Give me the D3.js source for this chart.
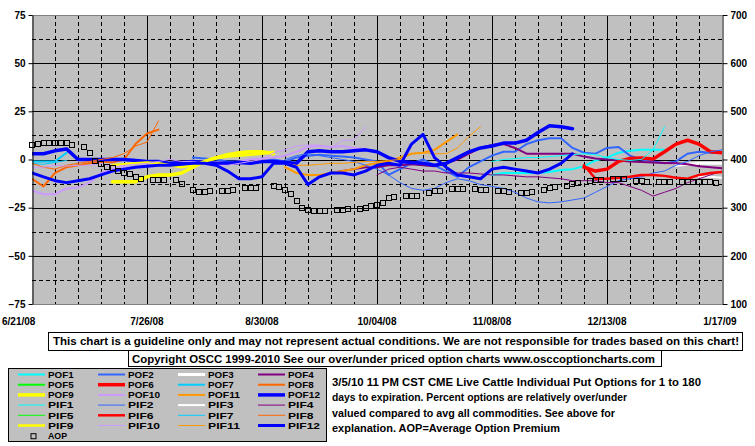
<!DOCTYPE html>
<html>
<head>
<meta charset="utf-8">
<script src="https://cdnjs.cloudflare.com/ajax/libs/d3/7.8.5/d3.min.js"></script>
<style>
  body { margin: 0; background: #fff; }
  text { font-family: "Liberation Sans", Arial, sans-serif; font-weight: bold; fill: #000; }
</style>
</head>
<body>
<div id="chart"></div>
<script>
// DATA ####################################################
const startDate = new Date(Date.UTC(2008, 5, 21));
const endDate = new Date(Date.UTC(2009, 0, 17));
const xTickLabels = ["6/21/08", "7/26/08", "8/30/08", "10/04/08", "11/08/08", "12/13/08", "1/17/09"];
const leftTicks = [75, 50, 25, 0, -25, -50, -75];
const rightTicks = [700, 600, 500, 400, 300, 200, 100];

const seriesNames = ["POF1", "POF2", "POF3", "POF4", "POF5", "POF6", "POF7", "POF8", "POF9", "POF10", "POF11", "POF12",
                     "PIF1", "PIF2", "PIF3", "PIF4", "PIF5", "PIF6", "PIF7", "PIF8", "PIF9", "PIF10", "PIF11", "PIF12"];

// first half-week slot of each series (slot = 3.5 days after 6/21/08)
const seriesStart = {
  POF1: 40, POF2: 14, POF3: 56, POF4: 26, POF5: 0, POF6: 48, POF7: 0, POF8: 0, POF9: 7, POF10: 0, POF11: 22, POF12: 0,
  PIF1: 40, PIF2: 22, PIF3: 58, PIF4: 30, PIF5: 0, PIF6: 48, PIF7: 0, PIF8: 0, PIF9: 7, PIF10: 0, PIF11: 22, PIF12: 0
};

// percent over/under, one value per half week
const POF1 = [-8, -7, -7, -7, -7, -6.5, -5.5, -5, -3.5, -0.5, 1, 3.5, 4.5, 5, 5, 5];
const POF2 = [1, 0.5, 0, -1, -1, -1.5, -1, 0, -1, 1, 2, 2.5, 2, 1.5, 1, 0, -1, -8, -5, -2, 0, -3, -6, -9, -4,
              -1, 2, 4, 4, 8, 10, 11, 11, 6, 3.5, 3, 6, 6.5, 2, 0, -1, -2, -1, 3, 4, 3.5, 3.5];
const POF3 = [-3, -2.5, -2, -2, -2];
const POF4 = [-7, -6, -5, -4, -4, -3, -3, -2.5, -3, -3.5, -2, 0, 3, 6, 7.5, 8, 6, 3, 3, 3, 3, 3, 1.5, 0.5, 0,
              -0.5, -1, -1.3, -1.5, -1.8, -2, -2.5, -3.5, -4, -4.5];
const POF5 = [];
const POF6 = [-4, -6, -5, -1, 0.5, 0.8, 0.2, 4, 8, 10, 8, 4, 3.5];
const POF7 = [-1, -1, -1, 3.5];
const POF8 = [-10, -14, -7, -4, -3, -2, -1, -1.5, 0, 8, 13.5, 15.5];
const POF9 = [-11.5, -11.5, -11.5, -9, -8, -8, -7, -4, -1, 1, 2.5, 3.5, 4, 4, 3];
const POF10 = [-16, -18, -18, -15, -14.5, -12, -7, -5, -4, -4, -3, -3, -2.5, -2, -1, -1, -1.5, -2, -1, 0, 0.5,
               1, 2, 4, 6.5, 7, 6.5, 7, 6, 5.5, 4];
const POF11 = [-4, -7, -8, -8, -7, -6, -5, -3, -2, -1, 1, 3, 3.5, 5, 9, 13];
const POF12 = [3, 3, 4.5, 5.5, 0, 0, 0, 0, 0, -0.5, -1, -1, -2, -1.5, -1, -1.5, -2, -2, -1.5, -2, -1, -1, -1.5, -2,
               4, 4.5, 4, 4, 4.5, 5, 4, 1, -1, -1.5, -2, -3, -2, 1, 4, 6, 7, 8.5, 8.5, 10, 14, 17.5, 17, 16];

const PIF1 = [-1, 0, 0.5, 1, 1, 1.5, 2, 2.5, 3, 2.5, 1, 0, -0.5, 0, 5, 17];
const PIF2 = [0, 2, 3, 2, 1, 0, -1, -3, -5, -8, -12, -15, -16, -15, -12, -10, -11, -13, -14, -15, -17, -20, -22,
              -22.5, -22, -21, -20, -17, -14, -11, -10, -9, -7, -6, -3, -1, 2, 4, 5];
const PIF3 = [-9, -9, -9.5];
const PIF4 = [-8, -5, -4, -5, -6, -6, -7, -7, -7, -7.5, -8, -8, -8.5, -9, -9, -9.5, -10, -11, -11, -11, -12, -12,
              -14, -16, -19, -17, -15, -12, -10, -8, -6];
const PIF5 = [];
const PIF6 = [-3, -10, -10, -9.5, -9, -8, -8, -8.5, -9.5, -10, -8, -7, -6.5];
const PIF7 = [-2, -2.5, -1.5, -0.5];
const PIF8 = [-2, -4, -5, -3, -2, -1, 0, 1, 3, 7, 9, 20];
const PIF9 = [-3, -2.5, -2, -1.5, -2, -3, -4, -3, -1, 0.5, 1.5, 2, 2.5, 3, 4];
const PIF10 = [-4, -4, -3, -3.5, -3, -3, -2, -4, -3, -2.5, -2, -1, 0, -1, -1, -2, -3, -3, -2, -1, 0, 3.5, 5, 7,
               7.5, 7.5, 6, 10, 10, 17];
const PIF11 = [-2, -3, -3, -2.5, -2, -2, -1.5, -1, -1, -0.5, 0, 3, 3.5, 3, 3, 6, 12, 17];
const PIF12 = [-7, -9, -11, -12, -11, -10, -8, -6, -5, -4, -3.5, -3, -3, -2.5, -2, -2, -3, -6, -10, -10, -9, -2, -2,
               -4, -13, -9, -7, -7, -8, -6, -3, -2, -3, 8, 13, 1, -4, -8, -9, -10, -5, -4, -5, -6, -7, -5, -2, 3];

// average option premium (right axis), one value per 1.75 days
const AOP = [431, 433, 434, 434, 434, 434, 434, 430, null, 426, 414, 397, 391, 384, 382, 376, 372, 370, 364, 360,
             null, 357, 357, 357, null, 357, 349, null, 337, 333, 333, 335, null, 335, 335, 337, null, 341, 341, 341,
             null, null, 345, 343, 337, 328, 314, 299, 295, 293, 293, 293, null, 295, 295, 297, null, 297, 299, 303,
             306, 310, 320, 322, null, 324, 324, 324, null, 330, 335, 335, null, 339, 339, 339, null, 339, 337, 337,
             null, 335, 335, 333, null, 330, 330, 333, null, 337, 341, 343, null, 345, 349, 351, null, 355, 357, 357,
             null, 360, 360, 360, null, 355, 355, 353, null, 353, 353, 353, null, 353, 353, 353, 353, 353, 353, 351,
             null];

const seriesValues = {POF1, POF2, POF3, POF4, POF5, POF6, POF7, POF8, POF9, POF10, POF11, POF12,
                      PIF1, PIF2, PIF3, PIF4, PIF5, PIF6, PIF7, PIF8, PIF9, PIF10, PIF11, PIF12};

const disclaimer = "This chart is a guideline only and may not represent actual conditions. We are not responsible for trades based on this chart!";
const copyright = "Copyright OSCC 1999-2010 See our over/under priced option charts www.osccoptioncharts.com";
const noteLines = [
  "3/5/10 11 PM CST CME Live Cattle Individual Put Options for 1 to 180",
  "days to expiration. Percent options are relatively over/under",
  "valued compared to avg all commodities. See above for",
  "explanation. AOP=Average Option Premium"
];

// STYLES ##################################################
const baseColor = ["#00FFFF", "#3366FF", "#FFFFFF", "#800080", "#00FF00", "#FF0000",
                   "#00CCFF", "#FF6600", "#FFFF00", "#CC99FF", "#FF9900", "#0000FF"];
const pofWidth = [2, 2, 3, 2, 2, 3.5, 2, 2, 3.5, 2, 2, 3.5];
const pifWidth = [1, 1, 2, 1, 1, 2.5, 1, 1, 2.5, 1, 1, 3];
const colorOf = name => baseColor[+name.slice(3) - 1];
const widthOf = name => (name.startsWith("POF") ? pofWidth : pifWidth)[+name.slice(3) - 1];

// LAYOUT ##################################################
const W = 755, H = 446;
const plot = {left: 32, right: 722, top: 15, bottom: 304};

const svg = d3.select("#chart").append("svg")
  .attr("width", W).attr("height", H)
  .style("display", "block");

const x = d3.scaleUtc().domain([startDate, endDate]).range([plot.left, plot.right]);
const y = d3.scaleLinear().domain([-75, 75]).range([plot.bottom, plot.top]);
const y2 = d3.scaleLinear().domain([100, 700]).range([plot.bottom, plot.top]);

// plot background
svg.append("rect")
  .attr("x", plot.left).attr("y", plot.top)
  .attr("width", plot.right - plot.left).attr("height", plot.bottom - plot.top)
  .attr("fill", "#C0C0C0");

// GRID ----------------------------------------------------
const weekTicks = d3.range(0, 31).map(k => d3.utcDay.offset(startDate, 7 * k));
const majorTicks = d3.range(0, 7).map(k => d3.utcDay.offset(startDate, 35 * k));

svg.append("g").selectAll("line")
  .data(weekTicks.filter((d, i) => i % 5 !== 0))
  .join("line")
    .attr("x1", d => Math.round(x(d)) + 0.5).attr("x2", d => Math.round(x(d)) + 0.5)
    .attr("y1", plot.top).attr("y2", plot.bottom)
    .attr("stroke", "#000").attr("stroke-dasharray", "4,3");

svg.append("g").selectAll("line")
  .data(d3.range(-62.5, 63, 25))
  .join("line")
    .attr("x1", plot.left).attr("x2", plot.right)
    .attr("y1", d => Math.round(y(d)) + 0.5).attr("y2", d => Math.round(y(d)) + 0.5)
    .attr("stroke", "#000").attr("stroke-dasharray", "4,3");

svg.append("g").selectAll("line")
  .data(majorTicks.slice(1, -1))
  .join("line")
    .attr("x1", d => Math.round(x(d)) + 0.5).attr("x2", d => Math.round(x(d)) + 0.5)
    .attr("y1", plot.top).attr("y2", plot.bottom)
    .attr("stroke", "#000");

svg.append("g").selectAll("line")
  .data([-50, -25, 0, 25, 50])
  .join("line")
    .attr("x1", plot.left).attr("x2", plot.right)
    .attr("y1", d => Math.round(y(d)) + 0.5).attr("y2", d => Math.round(y(d)) + 0.5)
    .attr("stroke", "#000");

// border top / bottom
svg.append("line").attr("x1", plot.left).attr("x2", plot.right)
  .attr("y1", plot.top + 0.5).attr("y2", plot.top + 0.5).attr("stroke", "#808080");
svg.append("line").attr("x1", plot.left).attr("x2", plot.right)
  .attr("y1", plot.bottom + 0.5).attr("y2", plot.bottom + 0.5).attr("stroke", "#808080");

// LINES ---------------------------------------------------
svg.append("clipPath").attr("id", "clip")
  .append("rect")
    .attr("x", plot.left).attr("y", plot.top)
    .attr("width", plot.right - plot.left).attr("height", plot.bottom - plot.top);

const lineGen = d3.line()
  .x(d => x(d.date))
  .y(d => y(d.value));

const lineData = seriesNames.map(name => ({
  name,
  points: seriesValues[name].map((v, i) => ({
    date: d3.utcHour.offset(startDate, (seriesStart[name] + i) * 84),
    value: v
  }))
}));

svg.append("g").attr("clip-path", "url(#clip)")
  .selectAll("path")
  .data(lineData.filter(s => s.points.length > 1))
  .join("path")
    .attr("d", s => lineGen(s.points))
    .attr("fill", "none")
    .attr("stroke", s => colorOf(s.name))
    .attr("stroke-width", s => widthOf(s.name))
    .attr("stroke-linejoin", "round")
    .attr("stroke-linecap", "round");

// AOP squares
const aopPoints = AOP.map((v, k) => ({date: d3.utcHour.offset(startDate, k * 42), value: v}))
  .filter(d => d.value !== null);

svg.append("g").selectAll("rect")
  .data(aopPoints)
  .join("rect")
    .attr("x", d => Math.round(x(d.date)) - 2.5)
    .attr("y", d => Math.round(y2(d.value)) - 2.5)
    .attr("width", 5).attr("height", 5)
    .attr("fill", "none")
    .attr("stroke", "#000");

// AXES ----------------------------------------------------
const leftAxis = svg.append("g")
  .attr("transform", `translate(${plot.left + 0.5},0)`)
  .call(d3.axisLeft(y).tickValues(leftTicks).tickSize(4).tickSizeOuter(0).tickPadding(3));
const rightAxis = svg.append("g")
  .attr("transform", `translate(${plot.right + 0.5},0)`)
  .call(d3.axisRight(y2).tickValues(rightTicks).tickSize(5).tickSizeOuter(0).tickPadding(3));

[leftAxis, rightAxis].forEach(g => {
  g.select(".domain").attr("stroke", "#000");
  g.selectAll(".tick line").attr("stroke", "#000");
  g.selectAll(".tick text")
    .attr("font-family", null).style("font-size", "10px").attr("fill", "#000");
});

svg.append("g").selectAll("text")
  .data(xTickLabels)
  .join("text")
    .attr("x", (d, i) => x(majorTicks[i]))
    .attr("dx", (d, i) => i === 0 ? -30 : (i === 6 ? -2 : 0))
    .attr("y", 325)
    .attr("text-anchor", (d, i) => i === 0 ? "start" : "middle")
    .style("font-size", "10px")
    .text(d => d);

// DISCLAIMER BOXES ---------------------------------------
svg.append("rect").attr("x", 48.5).attr("y", 332.5).attr("width", 694).attr("height", 18)
  .attr("fill", "#fff").attr("stroke", "#000");
svg.append("text").attr("x", 53).attr("y", 345)
  .style("font-size", "11.5px")
  .attr("textLength", 686).attr("lengthAdjust", "spacingAndGlyphs")
  .text(disclaimer);

svg.append("rect").attr("x", 128.5).attr("y", 350.5).attr("width", 533).attr("height", 16)
  .attr("fill", "#fff").attr("stroke", "#000");
svg.append("text").attr("x", 132).attr("y", 362.5)
  .style("font-size", "11.5px")
  .attr("textLength", 523).attr("lengthAdjust", "spacingAndGlyphs")
  .text(copyright);

// LEGEND --------------------------------------------------
const rowGap = 10.2;
const legend = svg.append("g");
legend.append("rect").attr("x", 8.5).attr("y", 368.5).attr("width", 318).attr("height", 73)
  .attr("fill", "#C0C0C0").attr("stroke", "#000");

const legendItems = legend.selectAll("g.item")
  .data(seriesNames)
  .join("g")
    .attr("class", "item")
    .attr("transform", (d, i) => `translate(${18 + (i % 4) * 80},${374.5 + Math.floor(i / 4) * rowGap})`);

legendItems.append("line")
  .attr("x1", 0).attr("x2", 27).attr("y1", 0).attr("y2", 0)
  .attr("stroke", d => colorOf(d))
  .attr("stroke-width", d => widthOf(d));

legendItems.append("text")
  .attr("x", 30).attr("y", 3.3)
  .style("font-size", "9px")
  .attr("textLength", d => d.length * 6.4)
  .attr("lengthAdjust", "spacingAndGlyphs")
  .text(d => d);

const aopItem = legend.append("g").attr("transform", `translate(18,${374.5 + 6 * rowGap})`);
aopItem.append("rect").attr("x", 13).attr("y", -2).attr("width", 5).attr("height", 5)
  .attr("fill", "none").attr("stroke", "#000");
aopItem.append("text").attr("x", 30).attr("y", 3.3).style("font-size", "9px")
  .attr("textLength", 19).attr("lengthAdjust", "spacingAndGlyphs").text("AOP");

// NOTE TEXT -----------------------------------------------
const noteWidths = [369, 295, 283, 228];
svg.append("g").selectAll("text")
  .data(noteLines)
  .join("text")
    .attr("x", 332)
    .attr("y", (d, i) => 386 + i * 15.4)
    .style("font-size", "10.5px")
    .attr("textLength", (d, i) => noteWidths[i])
    .attr("lengthAdjust", "spacingAndGlyphs")
    .text(d => d);
</script>
</body>
</html>
